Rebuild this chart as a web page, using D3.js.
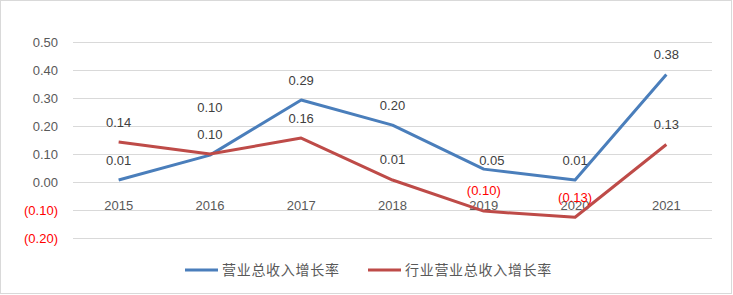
<!DOCTYPE html>
<html>
<head>
<meta charset="utf-8">
<script src="https://cdn.jsdelivr.net/npm/d3@7"></script>
<style>
  body { margin: 0; background: #fff; }
  text { font-family: "Liberation Sans", "Noto Sans CJK SC", sans-serif; }
</style>
</head>
<body>
<script>
// data
let years = ["2015","2016","2017","2018","2019","2020","2021"];
let revGrowth = [0.007, 0.096, 0.293, 0.203, 0.046, 0.007, 0.384];
let industryGrowth = [0.143, 0.100, 0.157, 0.007, -0.104, -0.126, 0.134];
let yTicks = [-0.2, -0.1, 0, 0.1, 0.2, 0.3, 0.4, 0.5];
let seriesNames = ["营业总收入增长率", "行业营业总收入增长率"];

// label nudges (layout only)
let revLabelShift = [[0,-20],[0,-48],[0,-20],[0,-20],[8,-9],[0,-20],[0,-20]];
let indLabelShift = [[0,-20],[0,-20],[0,-20],[0,-21],[0,-21],[0,-20],[0,-20]];

let width = 733, height = 295;
let margin = {left:73, right:21, top:42, bottom:57};

let svg = d3.select("body").append("svg").attr("width",width).attr("height",height);

svg.append("rect")
   .attr("x",0.5).attr("y",0.5)
   .attr("width",width-2).attr("height",height-2)
   .attr("fill","#fff").attr("stroke","#d9d9d9");

let x = d3.scaleBand()
          .domain(years)
          .range([margin.left, width-margin.right]);

let y = d3.scaleLinear()
          .domain([-0.2,0.5])
          .range([height-margin.bottom, margin.top]);

let fmt = (v)=> v < 0 ? "(" + d3.format(".2f")(-v) + ")" : d3.format(".2f")(v);

// grid + y axis
let yAxis = d3.axisLeft(y).tickValues(yTicks)
              .tickSize(-(width-margin.left-margin.right))
              .tickPadding(15)
              .tickFormat(fmt);

let yG = svg.append("g").attr("class","axis y")
            .attr("transform","translate("+margin.left+",0)")
            .call(yAxis);
yG.select(".domain").remove();
yG.selectAll(".tick line").attr("stroke","#d9d9d9").attr("stroke-width",1);
yG.selectAll(".tick text")
  .attr("font-size","13px")
  .attr("fill",(d)=> d < 0 ? "#ff0000" : "#595959");

// x labels sit under the zero line
let xAxis = d3.axisBottom(x).tickSize(0).tickPadding(19);
let xG = svg.append("g").attr("class","axis x")
            .attr("transform","translate(0,"+y(0)+")")
            .call(xAxis);
xG.select(".domain").remove();
xG.selectAll(".tick text").attr("font-size","13px").attr("fill","#595959");

let cx = (d,i)=> x(years[i]) + x.bandwidth()/2;

let line = d3.line()
             .x(cx)
             .y((d)=>y(d));

let series = [
  {vals:revGrowth, color:"#4a7ebb", shift:revLabelShift},
  {vals:industryGrowth, color:"#be4b48", shift:indLabelShift}
];

series.forEach((s)=>{
  svg.append("path")
     .attr("fill","none")
     .attr("stroke",s.color)
     .attr("stroke-width",3)
     .attr("stroke-linejoin","round")
     .attr("d",line(s.vals));
});

series.forEach((s)=>{
  svg.selectAll(null)
     .data(s.vals)
     .enter().append("text")
     .attr("x",(d,i)=>cx(d,i) + s.shift[i][0])
     .attr("y",(d,i)=>y(d) + s.shift[i][1])
     .attr("dy","0.35em")
     .attr("text-anchor","middle")
     .attr("font-size","13px")
     .attr("fill",(d)=> d < 0 ? "#ff0000" : "#404040")
     .text(fmt);
});

// legend
let legend = svg.append("g").attr("transform","translate(0,270)");
let legendItems = [
  {x:185, color:"#4a7ebb", name:seriesNames[0]},
  {x:368, color:"#be4b48", name:seriesNames[1]}
];
legendItems.forEach((l)=>{
  legend.append("line")
        .attr("x1",l.x).attr("x2",l.x+33)
        .attr("y1",0).attr("y2",0)
        .attr("stroke",l.color).attr("stroke-width",3);
  legend.append("text")
        .attr("x",l.x+37).attr("y",0).attr("dy","0.35em")
        .attr("font-size","14px")
        .attr("letter-spacing","0.7px")
        .attr("fill","#595959")
        .style("font-family","'Noto Sans CJK SC', sans-serif")
        .text(l.name);
});
</script>
</body>
</html>
